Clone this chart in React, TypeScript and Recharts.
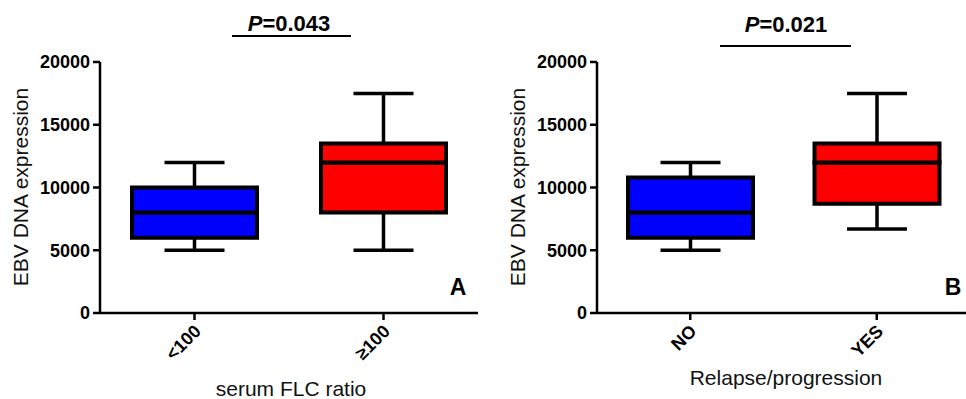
import React from "react";
import { ComposedChart, Bar, XAxis, YAxis, Cell } from "recharts";

// panel A: serum FLC ratio
const CATEGORIES_A = ["<100", "≥100"];
const MIN_A = [5000, 5000];
const Q1_A = [6000, 8000];
const MEDIAN_A = [8000, 12000];
const Q3_A = [10000, 13500];
const MAX_A = [12000, 17500];

// panel B: relapse/progression
const CATEGORIES_B = ["NO", "YES"];
const MIN_B = [5000, 6700];
const Q1_B = [6000, 8700];
const MEDIAN_B = [8000, 12000];
const Q3_B = [10800, 13500];
const MAX_B = [12000, 17500];

const Y_TICKS = [0, 5000, 10000, 15000, 20000];
const BOX_COLORS = ["#0000FF", "#FF0000"];

const FONT = "'Liberation Sans', Arial, sans-serif";
const LINE_W = 3.5;
const CAP_HALF = 30;

function buildRows(cats: string[], mins: number[], q1: number[], med: number[], q3: number[], maxs: number[]) {
  return cats.map((name, i) => ({
    name,
    base: mins[i],
    lowW: q1[i] - mins[i],
    boxLow: med[i] - q1[i],
    boxHigh: q3[i] - med[i],
    highW: maxs[i] - q3[i],
  }));
}

const LowWhisker = (p: any) => {
  const cx = p.x + p.width / 2;
  const yb = p.y + p.height;
  return (
    <g>
      <line x1={cx} x2={cx} y1={p.y} y2={yb} stroke="#000" strokeWidth={LINE_W} />
      <line x1={cx - CAP_HALF} x2={cx + CAP_HALF} y1={yb} y2={yb} stroke="#000" strokeWidth={LINE_W} />
    </g>
  );
};

const HighWhisker = (p: any) => {
  const cx = p.x + p.width / 2;
  return (
    <g>
      <line x1={cx} x2={cx} y1={p.y} y2={p.y + p.height} stroke="#000" strokeWidth={LINE_W} />
      <line x1={cx - CAP_HALF} x2={cx + CAP_HALF} y1={p.y} y2={p.y} stroke="#000" strokeWidth={LINE_W} />
    </g>
  );
};

const RotatedTick = (p: any) => (
  <g transform={`translate(${p.x + 3},${p.y + 6})`}>
    <text
      x={0}
      y={0}
      dy="0.35em"
      textAnchor="end"
      transform="rotate(-45)"
      fontFamily={FONT}
      fontSize={18}
      fontWeight="bold"
      fill="#000"
    >
      {p.payload.value}
    </text>
  </g>
);

type PanelProps = {
  rows: ReturnType<typeof buildRows>;
  width: number;
  yAxisWidth: number;
  xTitle: string;
  xTitleX: number;
  xTitleY: number;
  yTitleX: number;
};

function BoxPanel({ rows, width, yAxisWidth, xTitle, xTitleX, xTitleY, yTitleX }: PanelProps) {
  return (
    <ComposedChart
      width={width}
      height={399}
      data={rows}
      margin={{ top: 62, right: 5, bottom: 26, left: 0 }}
      barSize={125}
    >
      <XAxis
        dataKey="name"
        type="category"
        interval={0}
        height={60}
        axisLine={{ stroke: "#000", strokeWidth: 2.5 }}
        tickLine={{ stroke: "#000", strokeWidth: 2.5 }}
        tickSize={7}
        tick={<RotatedTick />}
        label={{
          content: () => (
            <text x={xTitleX} y={xTitleY} textAnchor="middle" fontFamily={FONT} fontSize={21} fill="#111">
              {xTitle}
            </text>
          ),
        }}
      />
      <YAxis
        type="number"
        domain={[0, 20000]}
        ticks={Y_TICKS}
        width={yAxisWidth}
        interval={0}
        axisLine={{ stroke: "#000", strokeWidth: 2.5 }}
        tickLine={{ stroke: "#000", strokeWidth: 2.5 }}
        tickSize={7}
        tickMargin={3}
        tick={{ fontFamily: FONT, fontSize: 18, fontWeight: "bold", fill: "#000" }}
        label={{
          content: () => (
            <text
              x={yTitleX}
              y={187}
              transform={`rotate(-90 ${yTitleX} 187)`}
              textAnchor="middle"
              fontFamily={FONT}
              fontSize={21}
              fill="#111"
            >
              EBV DNA expression
            </text>
          ),
        }}
      />
      <Bar dataKey="base" stackId="s" fill="none" isAnimationActive={false} />
      <Bar dataKey="lowW" stackId="s" shape={<LowWhisker />} isAnimationActive={false} />
      <Bar dataKey="boxLow" stackId="s" stroke="#000" strokeWidth={4} isAnimationActive={false}>
        {rows.map((r, i) => (
          <Cell key={r.name} fill={BOX_COLORS[i]} />
        ))}
      </Bar>
      <Bar dataKey="boxHigh" stackId="s" stroke="#000" strokeWidth={4} isAnimationActive={false}>
        {rows.map((r, i) => (
          <Cell key={r.name} fill={BOX_COLORS[i]} />
        ))}
      </Bar>
      <Bar dataKey="highW" stackId="s" shape={<HighWhisker />} isAnimationActive={false} />
    </ComposedChart>
  );
}

export default function App() {
  const rowsA = buildRows(CATEGORIES_A, MIN_A, Q1_A, MEDIAN_A, Q3_A, MAX_A);
  const rowsB = buildRows(CATEGORIES_B, MIN_B, Q1_B, MEDIAN_B, Q3_B, MAX_B);

  return (
    <div
      style={{
        position: "absolute",
        left: 0,
        top: 0,
        width: 966,
        height: 399,
        overflow: "hidden",
        background: "#fff",
      }}
    >
      <div style={{ position: "absolute", left: 0, top: 0 }}>
        <BoxPanel rows={rowsA} width={483} yAxisWidth={100} xTitle="serum FLC ratio" xTitleX={291} xTitleY={396} yTitleX={28} />
      </div>
      <div style={{ position: "absolute", left: 483, top: 0 }}>
        <BoxPanel rows={rowsB} width={492} yAxisWidth={114} xTitle="Relapse/progression" xTitleX={303} xTitleY={385} yTitleX={42} />
      </div>
      {/* significance annotations and panel letters */}
      <svg width={966} height={399} style={{ position: "absolute", left: 0, top: 0, pointerEvents: "none" }}>
        <g fontFamily={FONT} fontWeight="bold" fill="#000">
          <text x={289} y={31} fontSize={22} textAnchor="middle">
            <tspan fontStyle="italic">P</tspan>=0.043
          </text>
          <line x1={232} x2={351} y1={36} y2={36} stroke="#000" strokeWidth={2} />
          <text x={786} y={32} fontSize={22} textAnchor="middle">
            <tspan fontStyle="italic">P</tspan>=0.021
          </text>
          <line x1={720} x2={851} y1={46} y2={46} stroke="#000" strokeWidth={2} />
          <text x={458} y={295} fontSize={23} textAnchor="middle">A</text>
          <text x={953} y={295} fontSize={23} textAnchor="middle">B</text>
        </g>
      </svg>
    </div>
  );
}
